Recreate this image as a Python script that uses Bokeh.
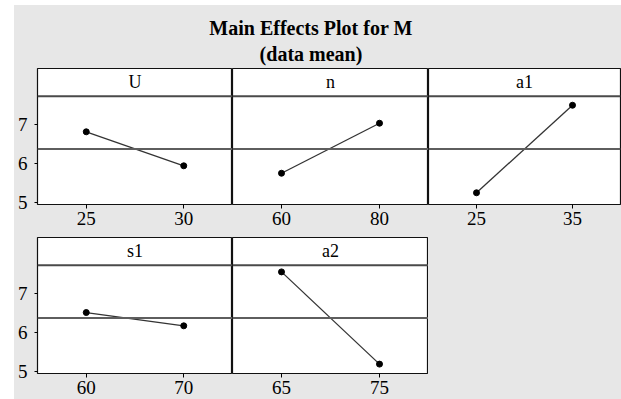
from bokeh.plotting import figure
from bokeh.layouts import column, row
from bokeh.models import FactorRange, Range1d, Span, Label, FixedTicker
from bokeh.embed import file_html
from bokeh.resources import INLINE

# ---- data ----
title_lines = ["Main Effects Plot for M", "(data mean)"]
factors = ["U", "n", "a1", "s1", "a2"]
levels_U = ["25", "30"]
means_U = [6.81, 5.94]
levels_n = ["60", "80"]
means_n = [5.75, 7.03]
levels_a1 = ["25", "35"]
means_a1 = [5.25, 7.49]
levels_s1 = ["60", "70"]
means_s1 = [6.51, 6.17]
levels_a2 = ["65", "75"]
means_a2 = [7.55, 5.19]
grand_mean = 6.37
y_ticks = [5, 6, 7]

# ---- styling ----
BG = "#e7e7e7"
SERIF = "Liberation Serif"
Y_LO, Y_HI, HEADER_Y = 4.95, 8.43, 7.72


def panel(name, levels, means, width, height, left_axis, bl, br, bt, bb):
    p = figure(
        x_range=FactorRange(*levels), y_range=Range1d(Y_LO, Y_HI),
        width=width, height=height, output_backend="svg", toolbar_location=None,
        min_border_left=bl, min_border_right=br, min_border_top=bt, min_border_bottom=bb,
    )
    p.background_fill_color = "white"
    p.border_fill_color = BG
    p.outline_line_color = "#111111"
    p.outline_line_width = 1.2
    p.grid.visible = False

    xa = p.xaxis[0]
    xa.axis_line_color = None
    xa.major_tick_out = 4
    xa.major_tick_in = 0
    xa.major_tick_line_color = "black"
    xa.major_label_standoff = 3
    xa.major_label_text_font = SERIF
    xa.major_label_text_font_size = "19px"
    xa.major_label_text_color = "black"

    ya = p.yaxis[0]
    if left_axis:
        ya.ticker = FixedTicker(ticks=y_ticks)
        ya.axis_line_color = None
        ya.major_tick_out = 3
        ya.major_tick_in = 0
        ya.minor_tick_out = 0
        ya.minor_tick_in = 0
        ya.major_tick_line_color = "black"
        ya.major_label_standoff = 7
        ya.major_label_text_font = SERIF
        ya.major_label_text_font_size = "19px"
        ya.major_label_text_color = "black"
    else:
        ya.visible = False

    # header strip
    p.add_layout(Span(location=HEADER_Y, dimension="width", line_color="#4a4a4a", line_width=2))
    p.add_layout(Label(x=len(levels) / 2, y=(HEADER_Y + Y_HI) / 2, text=name,
                       text_align="center", text_baseline="middle",
                       text_font=SERIF, text_font_size="18px", text_color="black"))
    # grand mean reference line
    p.add_layout(Span(location=grand_mean, dimension="width", line_color="#5e5e5e", line_width=2))

    p.line(levels, means, line_color="#333333", line_width=1.3)
    p.scatter(levels, means, size=6, color="black")
    return p


# title canvas
tw, th = 607, 61
t = figure(width=tw, height=th, x_range=Range1d(0, tw), y_range=Range1d(0, th),
           output_backend="svg", toolbar_location=None, min_border=0,
           x_axis_type=None, y_axis_type=None)
t.outline_line_color = None
t.background_fill_color = BG
t.border_fill_color = BG
t.grid.visible = False
t.add_layout(Label(x=296.5, y=39, text=title_lines[0], text_align="center",
                   text_baseline="alphabetic", text_font=SERIF, text_font_size="20px",
                   text_font_style="bold", text_color="black"))
t.add_layout(Label(x=296.5, y=13, text=title_lines[1], text_align="center",
                   text_baseline="alphabetic", text_font=SERIF, text_font_size="20px",
                   text_font_style="bold", text_color="black"))

pU = panel(factors[0], levels_U, means_U, 218, 168, True, 23, 0, 2, 30)
pn = panel(factors[1], levels_n, means_n, 196, 168, False, 0, 0, 2, 30)
pa1 = panel(factors[2], levels_a1, means_a1, 193, 168, False, 0, 1, 2, 30)
ps1 = panel(factors[3], levels_s1, means_s1, 218, 165, True, 23, 0, 3, 26)
pa2 = panel(factors[4], levels_a2, means_a2, 196, 165, False, 0, 0, 3, 26)

layout = column(
    t,
    row(pU, pn, pa1),
    row(ps1, pa2),
    styles={"position": "absolute", "left": "14px", "top": "5px",
            "background-color": BG},
)

open("out.html", "w").write(file_html(layout, INLINE))
